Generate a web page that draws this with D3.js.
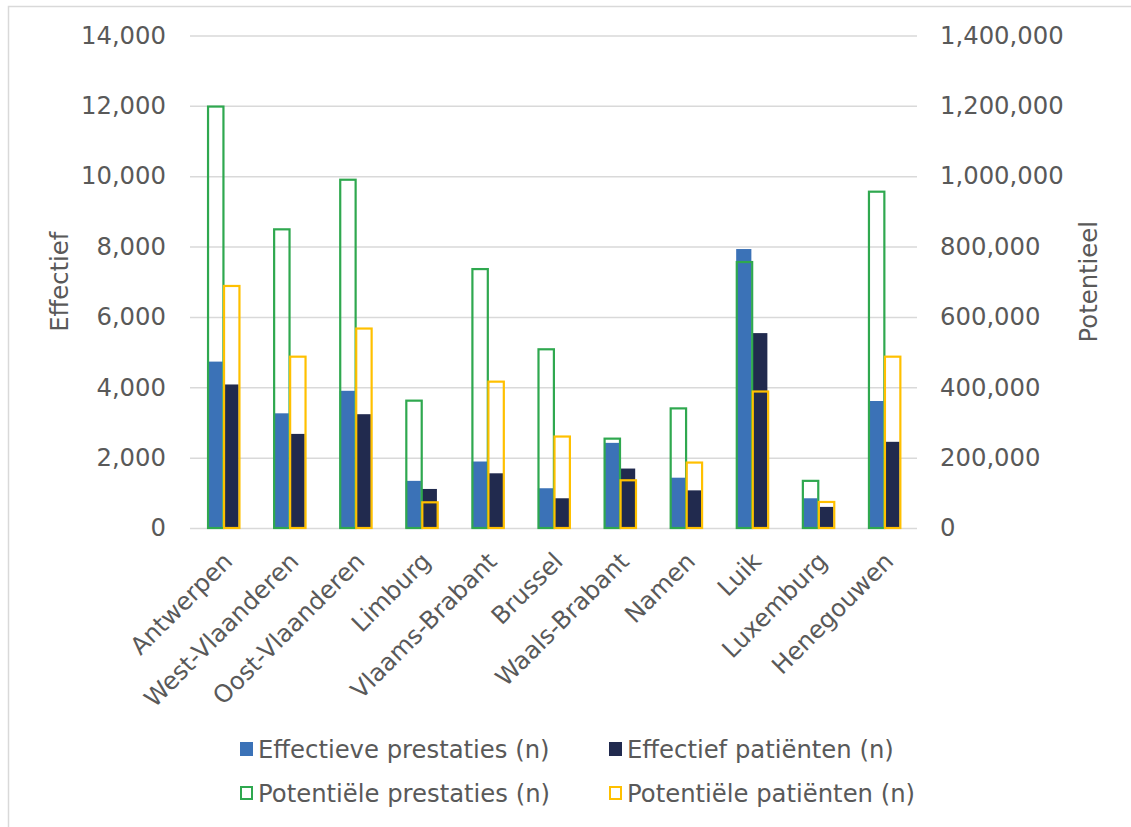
<!DOCTYPE html>
<html>
<head>
<meta charset="utf-8">
<script src="https://cdn.jsdelivr.net/npm/d3@7"></script>
<style>
  html, body { margin: 0; padding: 0; background: #ffffff; }
  svg { display: block; }
  text { font-family: "DejaVu Sans", Verdana, sans-serif; fill: #595959; }
</style>
</head>
<body>
<svg id="chart" width="1131" height="827"></svg>
<script>
// Provinces
const provinces = ["Antwerpen", "West-Vlaanderen", "Oost-Vlaanderen", "Limburg", "Vlaams-Brabant",
  "Brussel", "Waals-Brabant", "Namen", "Luik", "Luxemburg", "Henegouwen"];

// Left axis (Effectief)
const effectievePrestaties = [4730, 3260, 3900, 1340, 1890, 1130, 2420, 1430, 7930, 845, 3610];
const effectiefPatienten   = [4080, 2675, 3235, 1110, 1555,  845, 1690, 1070, 5540, 600, 2450];

// Right axis (Potentieel)
const potentielePrestaties = [1198000, 849000, 990000, 362000, 736000, 508000, 254000, 340000, 756000, 134000, 956000];
const potentielePatienten  = [ 688000, 487000, 567000,  73000, 416000, 260000, 135600, 186000, 388000,  74000, 487000];

const leftTicks  = [0, 2000, 4000, 6000, 8000, 10000, 12000, 14000];
const rightTicks = [0, 200000, 400000, 600000, 800000, 1000000, 1200000, 1400000];

const seriesNames = ["Effectieve prestaties (n)", "Effectief patiënten (n)",
  "Potentiële prestaties (n)", "Potentiële patiënten (n)"];

const C_BLUE = "#3b72b7", C_NAVY = "#212a4e", C_GREEN = "#2fa84f", C_GOLD = "#ffc000";
const GRID = "#d9d9d9";
const FONT = 24.3;

const svg = d3.select("#chart");

// chart frame
svg.append("rect").attr("x", 8.5).attr("y", 6.5).attr("width", 1300).attr("height", 1000)
  .attr("fill", "none").attr("stroke", GRID).attr("stroke-width", 1.5);

const plot = { left: 190, right: 917, top: 35.5, bottom: 528 };

const x = d3.scaleBand().domain(provinces).range([plot.left, plot.right]).padding(0);
const slot = d3.scaleBand().domain(["prestaties", "patienten"])
  .range([0, x.bandwidth()]).paddingInner(0).paddingOuter(1.065);

const yL = d3.scaleLinear().domain([0, 14000]).range([plot.bottom, plot.top]);
const yR = d3.scaleLinear().domain([0, 1400000]).range([plot.bottom, plot.top]);

const fmt = d3.format(",");

// gridlines + left axis
const gL = svg.append("g").attr("transform", `translate(${plot.left},0)`)
  .call(d3.axisLeft(yL).tickValues(leftTicks).tickFormat(fmt)
    .tickSize(-(plot.right - plot.left)).tickPadding(24));
gL.select(".domain").remove();
gL.selectAll(".tick line").attr("stroke", GRID).attr("stroke-width", 1.5);
gL.selectAll(".tick text").style("font-size", FONT + "px").style("fill", "#595959")
  .style("font-family", '"DejaVu Sans", Verdana, sans-serif');

// right axis
const gR = svg.append("g").attr("transform", `translate(${plot.right},0)`)
  .call(d3.axisRight(yR).tickValues(rightTicks).tickFormat(fmt).tickSize(0).tickPadding(23));
gR.select(".domain").remove();
gR.selectAll(".tick text").style("font-size", FONT + "px").style("fill", "#595959")
  .style("font-family", '"DejaVu Sans", Verdana, sans-serif');

// effective values (filled bars, left axis)
const fills = [
  { key: "prestaties", values: effectievePrestaties, color: C_BLUE },
  { key: "patienten", values: effectiefPatienten, color: C_NAVY }
];
fills.forEach(s => {
  svg.append("g").selectAll("rect").data(provinces).join("rect")
    .attr("x", (d) => x(d) + slot(s.key) + 0.4)
    .attr("width", slot.bandwidth() - 0.8)
    .attr("y", (d, i) => yL(s.values[i]))
    .attr("height", (d, i) => yL(0) - yL(s.values[i]))
    .attr("fill", s.color);
});

// potential values (outlined bars, right axis)
const outlines = [
  { key: "prestaties", values: potentielePrestaties, color: C_GREEN },
  { key: "patienten", values: potentielePatienten, color: C_GOLD }
];
outlines.forEach(s => {
  svg.append("g").selectAll("rect").data(provinces).join("rect")
    .attr("x", (d) => x(d) + slot(s.key) + 1)
    .attr("width", slot.bandwidth() - 0.6)
    .attr("y", (d, i) => yR(s.values[i]))
    .attr("height", (d, i) => yR(0) - yR(s.values[i]))
    .attr("fill", "none").attr("stroke", s.color).attr("stroke-width", 2.2);
});

// category labels, rotated
svg.append("g").selectAll("text").data(provinces).join("text")
  .attr("transform", d => `translate(${x(d) + x.bandwidth() / 2 - 2},550) rotate(-45)`)
  .attr("text-anchor", "end").attr("dy", "0.75em")
  .style("font-size", FONT + "px")
  .text(d => d);

// axis titles
svg.append("text").attr("transform", `translate(59,${(plot.top + plot.bottom) / 2}) rotate(-90)`)
  .attr("text-anchor", "middle").attr("dy", "0.35em").style("font-size", FONT + "px").text("Effectief");
svg.append("text").attr("transform", `translate(1088,${(plot.top + plot.bottom) / 2}) rotate(-90)`)
  .attr("text-anchor", "middle").attr("dy", "0.35em").style("font-size", FONT + "px").text("Potentieel");

// legend
const legendItems = [
  { name: seriesNames[0], color: C_BLUE, filled: true, x: 240, y: 749 },
  { name: seriesNames[1], color: C_NAVY, filled: true, x: 609, y: 749 },
  { name: seriesNames[2], color: C_GREEN, filled: false, x: 240, y: 793 },
  { name: seriesNames[3], color: C_GOLD, filled: false, x: 609, y: 793 }
];
const lg = svg.append("g").selectAll("g").data(legendItems).join("g")
  .attr("transform", d => `translate(${d.x},${d.y})`);
lg.append("rect")
  .attr("x", d => d.filled ? 0 : 1).attr("y", d => d.filled ? -7 : -6)
  .attr("width", d => d.filled ? 13 : 11).attr("height", d => d.filled ? 14 : 12)
  .attr("fill", d => d.filled ? d.color : "none")
  .attr("stroke", d => d.filled ? "none" : d.color).attr("stroke-width", 2);
lg.append("text").attr("x", 18).attr("dy", "0.36em").style("font-size", FONT + "px").text(d => d.name);
</script>
</body>
</html>
